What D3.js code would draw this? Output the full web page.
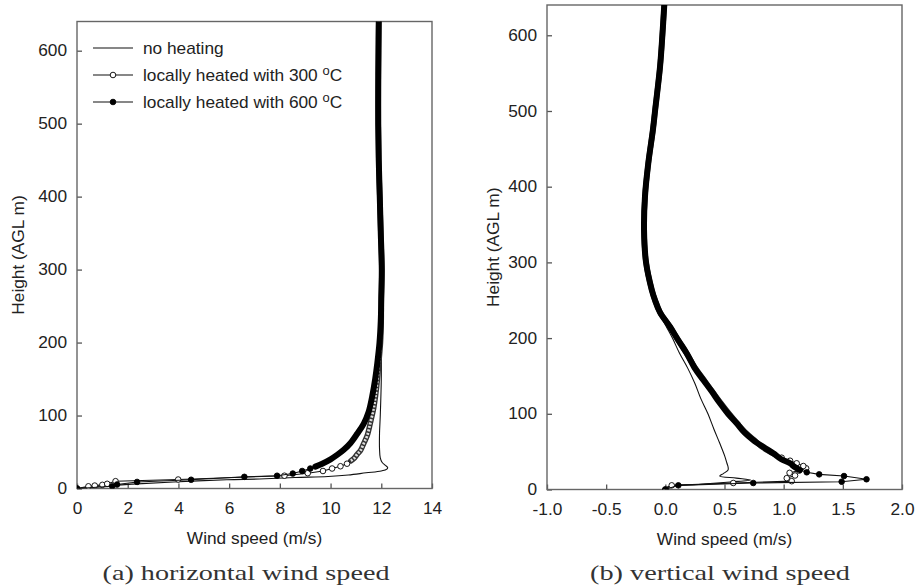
<!DOCTYPE html>
<html>
<head>
<meta charset="utf-8">
<script src="https://cdn.jsdelivr.net/npm/d3@7"></script>
<style>
  body { margin: 0; background: #fff; }
  text { font-family: "Liberation Sans", Arial, sans-serif; fill: #222; }
  .caption { font-family: "Liberation Serif", "DejaVu Serif", serif; fill: #333; }
</style>
</head>
<body>
<div id="container"></div>
<script>
/* DATA */
const heightTicks = [0, 100, 200, 300, 400, 500, 600];
const horizTicks = [0, 2, 4, 6, 8, 10, 12, 14];
const vertTicks = [-1.0, -0.5, 0.0, 0.5, 1.0, 1.5, 2.0];
const legendLabels = ["no heating", "locally heated with 300 ", "locally heated with 600 "];

// (a) horizontal wind speed, heights in m and speeds in m/s
const horizNoneH = [0, 3, 6, 9, 12, 13, 15, 16.5, 18.5, 21.5, 24, 26.5, 29, 32, 36, 42, 55, 75, 100, 150, 217, 260, 300, 350, 400, 450, 500, 550, 600, 640];
const horizNoneV = [0, 0.9, 2.2, 3.8, 5.9, 7.2, 8.6, 9.9, 10.7, 11.4, 12.0, 12.22, 12.25, 12.15, 12.03, 11.96, 11.93, 11.93, 11.96, 12.0, 12.0, 12.0, 12.02, 11.98, 11.94, 11.9, 11.88, 11.88, 11.89, 11.9];

const horiz300H = [0, 3, 4, 5, 6.4, 10, 12.3, 17.5, 21, 24, 27.4, 30.5, 34, 38, 41, 47, 52, 62, 72, 90, 110, 126, 150, 171, 200, 230, 260, 300, 350, 400, 450, 500, 550, 600, 640];
const horiz300V = [0, 0.45, 0.7, 1.0, 1.19, 1.52, 3.99, 8.18, 9.1, 9.7, 10.06, 10.39, 10.65, 10.8, 10.92, 11.05, 11.18, 11.31, 11.44, 11.57, 11.7, 11.77, 11.85, 11.9, 11.97, 12.0, 12.0, 12.02, 11.98, 11.94, 11.9, 11.88, 11.88, 11.89, 11.9];

const horiz600H = [0, 3, 5.5, 9, 12, 16, 17.5, 20.5, 24, 27.4, 30, 34, 40, 46, 53, 62, 75, 89, 105, 126, 150, 171, 200, 230, 260, 300, 350, 400, 450, 500, 550, 600, 640];
const horiz600V = [0, 1.39, 1.58, 2.37, 4.5, 6.6, 7.89, 8.51, 8.88, 9.2, 9.4, 9.67, 10.0, 10.26, 10.52, 10.78, 11.05, 11.31, 11.5, 11.64, 11.76, 11.84, 11.93, 11.98, 12.0, 12.02, 11.98, 11.94, 11.9, 11.88, 11.88, 11.89, 11.9];

// (b) vertical wind speed
const vertNoneH = [0, 3.5, 7, 10, 12.5, 15, 17.8, 21, 25.7, 30, 35, 45, 61, 80, 100, 120, 140, 160, 180, 200, 224, 250, 264, 300, 343, 387, 431, 475, 500, 558, 600, 640];
const vertNoneV = [0, 0.02, 0.3, 0.55, 0.72, 0.6, 0.46, 0.49, 0.53, 0.53, 0.52, 0.5, 0.46, 0.41, 0.36, 0.3, 0.25, 0.19, 0.12, 0.06, -0.02, -0.087, -0.115, -0.163, -0.18, -0.172, -0.144, -0.105, -0.087, -0.045, -0.025, -0.009];

const vert300H = [0, 5.5, 8.6, 11, 15, 18.5, 22, 25, 28, 31, 34.6, 38, 42, 46, 51, 57, 64, 75, 87, 100, 114, 130, 145, 160, 180, 197, 215, 234, 250, 264, 300, 343, 387, 431, 475, 500, 558, 600, 640];
const vert300V = [0, 0.054, 0.574, 1.068, 1.026, 1.096, 1.05, 1.13, 1.19, 1.166, 1.11, 1.054, 0.983, 0.927, 0.87, 0.81, 0.76, 0.68, 0.61, 0.54, 0.47, 0.395, 0.325, 0.255, 0.18, 0.11, 0.039, -0.045, -0.087, -0.115, -0.163, -0.18, -0.172, -0.144, -0.105, -0.087, -0.045, -0.025, -0.009];

const vert600H = [0, 5.5, 8.6, 10.3, 13.5, 17.8, 20, 22.7, 25.7, 30, 34.6, 40, 47.8, 56, 65.3, 75, 87.4, 100, 113.8, 130, 144.6, 160, 180, 197, 215, 234, 250, 264, 300, 343, 387, 431, 475, 500, 558, 600, 640];
const vert600V = [0, 0.11, 0.743, 1.49, 1.70, 1.51, 1.30, 1.195, 1.138, 1.09, 1.054, 0.98, 0.912, 0.83, 0.743, 0.67, 0.603, 0.53, 0.462, 0.39, 0.321, 0.25, 0.18, 0.11, 0.039, -0.045, -0.087, -0.115, -0.163, -0.18, -0.172, -0.144, -0.105, -0.087, -0.045, -0.025, -0.009];

/* CONSTANTS */
const width = 915;
const height = 588;
const sx = 1.08; // text looks slightly stretched in the original

const panels = [
  { id: "a", left: 77, right: 432, bottom: 488.5, top: 21.5, xDomain: [0, 14], ticks: horizTicks, fmt: d => String(d),
    caption: "(a) horizontal wind speed", capX: 246, capLen: 287, ylabelX: 18, legend: true,
    series: [
      { h: horizNoneH, v: horizNoneV, type: "none" },
      { h: horiz300H, v: horiz300V, type: "open", denseFrom: 38 },
      { h: horiz600H, v: horiz600V, type: "filled", denseFrom: 30 }
    ] },
  { id: "b", left: 547, right: 902, bottom: 489.5, top: 5, xDomain: [-1, 2], ticks: vertTicks, fmt: d => d.toFixed(1),
    caption: "(b) vertical wind speed", capX: 720, capLen: 260, ylabelX: 493, legend: false,
    series: [
      { h: vertNoneH, v: vertNoneV, type: "none" },
      { h: vert300H, v: vert300V, type: "open", denseFrom: 46 },
      { h: vert600H, v: vert600V, type: "filled", denseFrom: 25 }
    ] }
];

const svg = d3.select("#container")
  .append("svg")
  .attr("width", width)
  .attr("height", height);

panels.forEach(p => {
  const xScale = d3.scaleLinear().domain(p.xDomain).range([p.left, p.right]);
  const yScale = d3.scaleLinear().domain([0, 640]).range([p.bottom, p.top]);

  svg.append("clipPath").attr("id", "clip-" + p.id)
    .append("rect")
    .attr("x", p.left).attr("y", p.top)
    .attr("width", p.right - p.left).attr("height", p.bottom - p.top);

  // axes, ticks pointing inwards
  const xAxis = d3.axisBottom(xScale).tickValues(p.ticks).tickFormat(p.fmt)
    .tickSizeInner(-5).tickSizeOuter(0).tickPadding(14);
  const gx = svg.append("g").attr("transform", `translate(0,${p.bottom})`).call(xAxis);
  gx.select(".domain").remove();
  gx.selectAll("line").attr("stroke", "#555").attr("stroke-width", 1.3);
  gx.selectAll("text").style("font-size", "16px").attr("fill", "#222")
    .attr("transform", `scale(${sx},1)`);

  const yAxis = d3.axisLeft(yScale).tickValues(heightTicks).tickFormat(d => String(d))
    .tickSizeInner(-5).tickSizeOuter(0).tickPadding(10);
  const gy = svg.append("g").attr("transform", `translate(${p.left},0)`).call(yAxis);
  gy.select(".domain").remove();
  gy.selectAll("line").attr("stroke", "#555").attr("stroke-width", 1.3);
  gy.selectAll("text").style("font-size", "16px").attr("fill", "#222")
    .attr("x", -10 / sx).attr("transform", `scale(${sx},1)`);

  // frame
  svg.append("rect")
    .attr("x", p.left).attr("y", p.top)
    .attr("width", p.right - p.left).attr("height", p.bottom - p.top)
    .attr("fill", "none").attr("stroke", "#666").attr("stroke-width", 1.4);

  // axis titles
  svg.append("text")
    .attr("transform", `translate(${(p.left + p.right) / 2},${p.bottom + 55}) scale(${sx},1)`)
    .attr("text-anchor", "middle")
    .style("font-size", "16px")
    .text("Wind speed (m/s)");

  svg.append("text")
    .attr("transform", `translate(${p.ylabelX + 6},${(p.top + p.bottom) / 2}) rotate(-90) scale(${sx},1)`)
    .attr("text-anchor", "middle")
    .style("font-size", "16px")
    .text("Height (AGL m)");

  svg.append("text")
    .attr("class", "caption")
    .attr("x", p.capX).attr("y", 580)
    .attr("text-anchor", "middle")
    .attr("textLength", p.capLen)
    .attr("lengthAdjust", "spacingAndGlyphs")
    .style("font-size", "21px")
    .text(p.caption);

  // profiles
  const plot = svg.append("g").attr("clip-path", `url(#clip-${p.id})`);
  const thin = d3.line().x(d => xScale(d[1])).y(d => yScale(d[0]));
  const smooth = d3.line().x(d => xScale(d[1])).y(d => yScale(d[0])).curve(d3.curveCatmullRom.alpha(0.5));

  p.series.forEach(s => {
    const pts = s.h.map((h, i) => [h, s.v[i]]);
    if (s.type === "none") {
      plot.append("path").attr("d", smooth(pts))
        .attr("fill", "none").attr("stroke", "#111").attr("stroke-width", 1.1);
      return;
    }
    const sparse = pts.filter(d => d[0] < s.denseFrom);
    const dense = pts.filter(d => d[0] >= s.denseFrom);
    // connecting line
    plot.append("path").attr("d", thin(sparse.concat(dense.slice(0, 1))))
      .attr("fill", "none").attr("stroke", "#111").attr("stroke-width", 1.1);
    // markers are so close above denseFrom that they merge into a band
    if (s.type === "filled") {
      plot.append("path").attr("d", smooth(dense))
        .attr("fill", "none").attr("stroke", "#000").attr("stroke-width", 6)
        .attr("stroke-linecap", "round");
    } else {
      plot.append("path").attr("d", smooth(dense))
        .attr("fill", "none").attr("stroke", "#333").attr("stroke-width", 5.5)
        .attr("stroke-linecap", "round");
      plot.append("path").attr("d", smooth(dense))
        .attr("fill", "none").attr("stroke", "#ddd").attr("stroke-width", 2.8)
        .attr("stroke-dasharray", "2,1.5");
    }
    plot.selectAll(null)
      .data(sparse)
      .join("circle")
      .attr("cx", d => xScale(d[1]))
      .attr("cy", d => yScale(d[0]))
      .attr("r", 2.8)
      .attr("fill", s.type === "filled" ? "#000" : "#fff")
      .attr("stroke", "#000")
      .attr("stroke-width", 0.9);
  });

  // legend
  if (p.legend) {
    const lg = svg.append("g");
    const rowsY = [48, 75, 102];
    const kinds = ["none", "open", "filled"];
    legendLabels.forEach((label, i) => {
      const y = rowsY[i];
      lg.append("line").attr("x1", 93).attr("x2", 133).attr("y1", y).attr("y2", y)
        .attr("stroke", "#111").attr("stroke-width", 1.1);
      if (kinds[i] !== "none") {
        lg.append("circle").attr("cx", 113).attr("cy", y).attr("r", 2.8)
          .attr("fill", kinds[i] === "filled" ? "#000" : "#fff")
          .attr("stroke", "#000").attr("stroke-width", 0.9);
      }
      const t = lg.append("text")
        .attr("transform", `translate(143,${y + 6}) scale(${sx},1)`)
        .style("font-size", "16px")
        .text(label);
      if (i > 0) {
        t.append("tspan").attr("dy", -6).style("font-size", "12px").text("o");
        t.append("tspan").attr("dy", 6).text("C");
      }
    });
  }
});
</script>
</body>
</html>
